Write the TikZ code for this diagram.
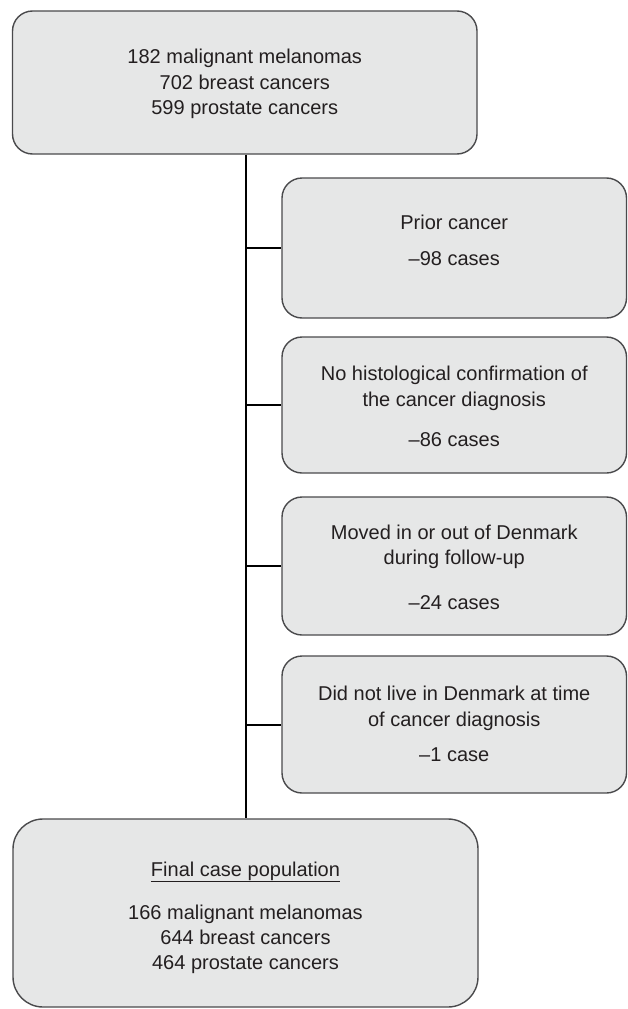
\documentclass[tikz,border=0pt]{standalone}
\usepackage{fontspec}
\setmainfont{Liberation Sans}
\definecolor{boxfill}{HTML}{E6E7E7}
\definecolor{boxline}{HTML}{4A4A4C}
\definecolor{txtcol}{HTML}{231F20}
\begin{document}
\begin{tikzpicture}[x=1pt,y=-1pt,
  box/.style={draw=boxline, fill=boxfill, line width=1.4pt, rounded corners=20pt, inner sep=0pt},
  txt/.style={font=\fontsize{20}{25.5}\selectfont, text=txtcol, inner sep=0pt, anchor=base},
  link/.style={line width=2pt, draw=black}]
\useasboundingbox (0,0) rectangle (628,1009);
% boxes
\node[box, minimum width=464.5pt, minimum height=143pt] (top) at (244.75,82.5) {};
\node[box, minimum width=344.5pt, minimum height=140pt] (b1) at (454.25,248) {};
\node[box, minimum width=344.5pt, minimum height=136pt] (b2) at (454.25,405) {};
\node[box, minimum width=344.5pt, minimum height=138pt] (b3) at (454.25,566) {};
\node[box, minimum width=344.5pt, minimum height=137pt] (b4) at (454.25,724.5) {};
\node[box, rounded corners=30pt, minimum width=465pt, minimum height=188pt] (bot) at (245.5,913) {};
% connectors
\coordinate (sp) at (246,0);
\draw[link] (top.south -| sp) -- (bot.north -| sp);
\draw[link] (b1.west -| sp) -- (b1.west);
\draw[link] (b2.west -| sp) -- (b2.west);
\draw[link] (b3.west -| sp) -- (b3.west);
\draw[link] (b4.west -| sp) -- (b4.west);
% texts
\node[txt] (t0a) at (244.75,63.5) {182 malignant melanomas};
\node[txt] (t0b) at (244.75,89) {702 breast cancers};
\node[txt] (t0c) at (244.75,114.5) {599 prostate cancers};
\node[txt] (t1a) at (454.25,229.3) {Prior cancer};
\node[txt] (t1b) at (454.25,265) {\textendash 98 cases};
\node[txt] (t2a) at (454.25,380.7) {No histological confirmation of};
\node[txt] (t2b) at (454.25,406) {the cancer diagnosis};
\node[txt] (t2c) at (454.25,446.7) {\textendash 86 cases};
\node[txt] (t3a) at (454.25,539) {Moved in or out of Denmark};
\node[txt] (t3b) at (454.25,564) {during follow-up};
\node[txt] (t3c) at (454.25,609.3) {\textendash 24 cases};
\node[txt] (t4a) at (454.25,700.7) {Did not live in Denmark at time};
\node[txt] (t4b) at (454.25,726.7) {of cancer diagnosis};
\node[txt] (t4c) at (454.25,761.7) {\textendash 1 case};
\node[txt] (t5a) at (245.5,876) {\underline{Final case population}};
\node[txt] (t5b) at (245.5,919) {166 malignant melanomas};
\node[txt] (t5c) at (245.5,944) {644 breast cancers};
\node[txt] (t5d) at (245.5,969) {464 prostate cancers};
\end{tikzpicture}
\end{document}
